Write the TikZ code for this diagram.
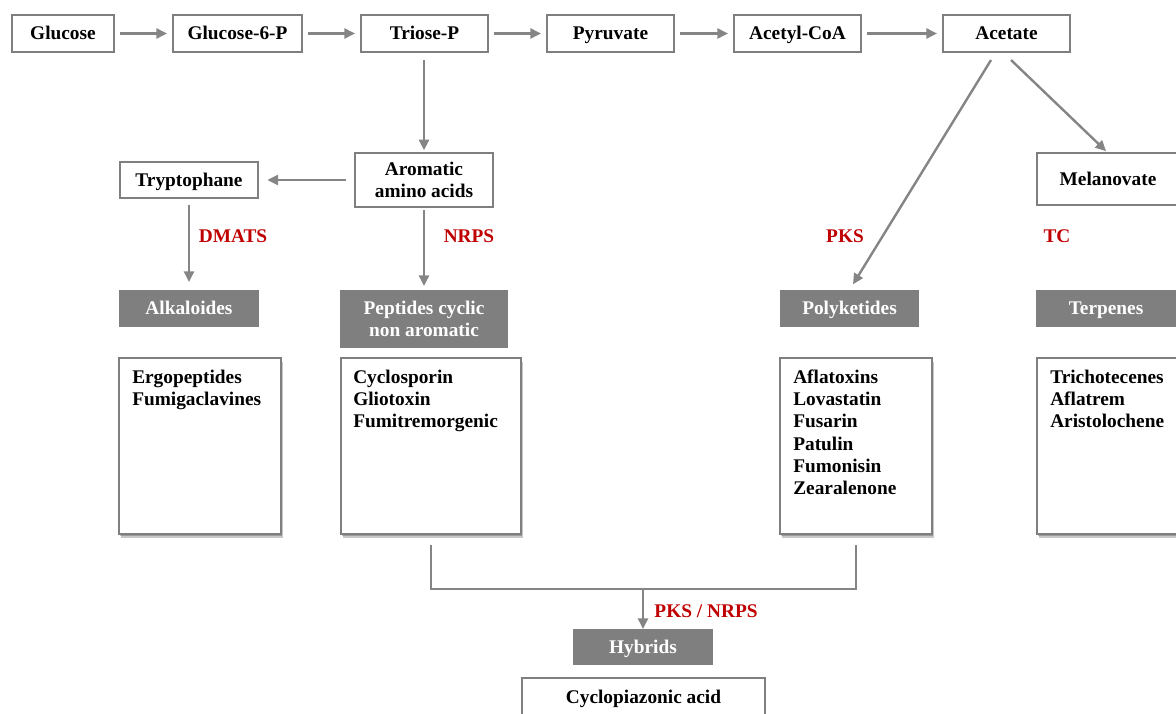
\documentclass[tikz,border=0pt]{standalone}
\usepackage{fontspec}
\setmainfont{Liberation Serif}
\usetikzlibrary{arrows.meta,shadows,calc}
\definecolor{boxgray}{HTML}{7F7F7F}
\definecolor{linegray}{HTML}{858585}
\definecolor{enzred}{HTML}{C00000}
\def\pxu{0.75pt}
\tikzset{
  metab/.style 2 args={draw=boxgray, line width=1.5pt, fill=white, inner sep=0pt, outer sep=0pt,
    minimum width=#1*\pxu, minimum height=#2*\pxu, align=center,
    font=\fontsize{14.5}{16.5}\selectfont\bfseries},
  grp/.style 2 args={fill=boxgray, text=white, inner sep=0pt, outer sep=0pt,
    minimum width=#1*\pxu, minimum height=#2*\pxu, align=center,
    font=\fontsize{14.5}{16.5}\selectfont\bfseries},
  oneline/.style={text height=12pt, text depth=2.4pt},
  lst/.style 2 args={draw=boxgray, line width=1.1pt, fill=white, inner sep=0pt, outer sep=0pt,
    minimum width=#1*\pxu, minimum height=#2*\pxu,
    double copy shadow={shadow xshift=0.8pt, shadow yshift=-1.6pt, opacity=0.22, draw=none, fill=black}},
  lsttxt/.style={anchor=north west, inner sep=0pt, align=left,
    font=\fontsize{14.5}{16.7}\selectfont\bfseries},
  enz/.style={text=enzred, inner sep=0pt, font=\fontsize{14.5}{16.5}\selectfont\bfseries},
  arr/.style={draw=linegray, line width=1.8pt, -{Triangle[length=8pt,width=7.5pt]}},
  link/.style={draw=linegray, line width=1.8pt}
}
\begin{document}
\begin{tikzpicture}[x=0.75pt,y=-0.75pt]
                                    \useasboundingbox (0,0) rectangle (1176,713);
                                    \clip (0,0) rectangle (1176,713);
% main chain
                                    \node[metab={102}{37},oneline] (glucose) at (63,33.5) {Glucose};
                                    \node[metab={129}{37},oneline] (g6p) at (237.5,33.5) {Glucose-6-P};
                                    \node[metab={127}{37},oneline] (triose) at (424.5,33.5) {Triose-P};
                                    \node[metab={127}{37},oneline] (pyruvate) at (610.5,33.5) {Pyruvate};
                                    \node[metab={127}{37},oneline] (acetylcoa) at (797.5,33.5) {Acetyl-CoA};
                                    \node[metab={127}{37},oneline] (acetate) at (1006.5,33.5) {Acetate};
                                    \draw[arr,shorten <=4.5pt,shorten >=4.5pt] (glucose) -- (g6p);
                                    \draw[arr,shorten <=4.5pt,shorten >=4.5pt] (g6p) -- (triose);
                                    \draw[arr,shorten <=4.5pt,shorten >=4.5pt] (triose) -- (pyruvate);
                                    \draw[arr,shorten <=4.5pt,shorten >=4.5pt] (pyruvate) -- (acetylcoa);
                                    \draw[arr,shorten <=4.5pt,shorten >=4.5pt] (acetylcoa) -- (acetate);

% precursors
                                    \node[metab={138}{54}] (arom) at (424,180) {Aromatic\\amino acids};
                                    \node[metab={138}{36},oneline] (trypto) at (189,180) {Tryptophane};
                                    \node[metab={142}{52},oneline] (melano) at (1108,179) {Melanovate};
                                    \draw[arr,shorten <=6pt,shorten >=2pt] (triose.south -| arom) -- (arom);
                                    \draw[arr,shorten <=7pt,shorten >=7pt] (arom) -- (trypto);
                                    \draw[arr,shorten >=2pt] ($(acetate.south)+(4.5,8)$) -- (melano.north);

% classes
                                    \node[grp={140}{37},oneline] (alk) at (189,308.5) {Alkaloides};
                                    \node[grp={168}{58}] (pept) at (424,319) {Peptides cyclic\\non aromatic};
                                    \node[grp={139}{37},oneline] (polyk) at (849.5,308.5) {Polyketides};
                                    \node[grp={140}{37},oneline] (terp) at (1106,308.5) {Terpenes};
                                    \draw[arr,shorten <=5pt,shorten >=6pt] (trypto) -- (alk);
                                    \draw[arr,shorten <=2.5pt,shorten >=3pt] (arom) -- (pept);
                                    \draw[arr,shorten >=5pt] ($(acetate.south)+(-15.5,8)$) -- (polyk.north);
                                    \node[enz] (dmats) at (233,236) {DMATS};
                                    \node[enz] (nrps) at (469,236) {NRPS};
                                    \node[enz] (pks) at (845,236) {PKS};
                                    \node[enz] (tc) at (1057,236) {TC};

% compounds
                                    \node[lst={162}{176}] (alklist) at (200,446) {};
                                    \node[lst={180}{176}] (peptlist) at (431,446) {};
                                    \node[lst={152}{176}] (polylist) at (856,446) {};
                                    \node[lst={152}{176}] (terplist) at (1113,446) {};
                                    \node[lsttxt] (alktxt) at ($(alklist.north west)+(13,11.5)$) {Ergopeptides\\Fumigaclavines};
                                    \node[lsttxt] (pepttxt) at ($(peptlist.north west)+(12,11.5)$) {Cyclosporin\\Gliotoxin\\Fumitremorgenic};
                                    \node[lsttxt] (polytxt) at ($(polylist.north west)+(13,11.5)$) {Aflatoxins\\Lovastatin\\Fusarin\\Patulin\\Fumonisin\\Zearalenone};
                                    \node[lsttxt] (terptxt) at ($(terplist.north west)+(13,11.5)$) {Trichotecenes\\Aflatrem\\Aristolochene};

% hybrids
                                    \coordinate (join) at (643,589);
                                    \draw[link] ($(peptlist.south)+(0,11)$) |- (join) -| ($(polylist.south)+(0,11)$);
                                    \node[grp={140}{36},oneline] (hybrids) at (643,647) {Hybrids};
                                    \draw[arr] (join) -- (hybrids.north);
                                    \node[enz] (pksnrps) at (706,611) {PKS / NRPS};
                                    \node[metab={243}{38},line width=1.1pt,oneline] (cpa) at (643.5,697) {Cyclopiazonic acid};
                                \end{tikzpicture}
\end{document}
